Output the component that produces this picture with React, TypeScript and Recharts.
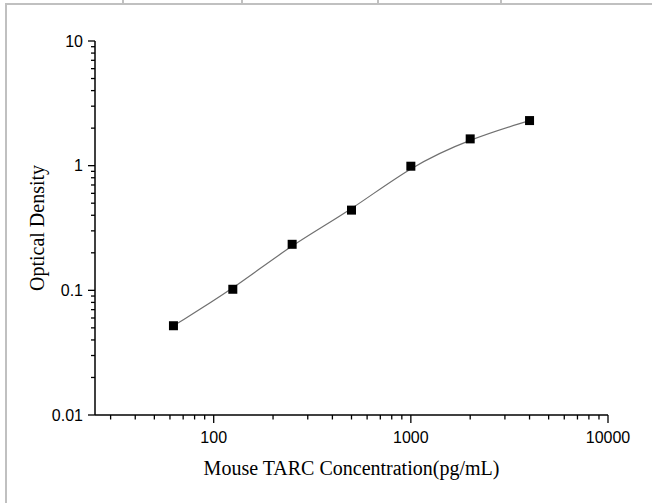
import { ComposedChart, Line, XAxis, YAxis } from 'recharts'

const concentrations = [62.5, 125, 250, 500, 1000, 2000, 4000]
const densities = [0.052, 0.102, 0.234, 0.44, 0.99, 1.64, 2.3]

const xTicks = [30, 40, 50, 60, 70, 80, 90, 100, 200, 300, 400, 500, 600, 700, 800, 900, 1000, 2000, 3000, 4000, 5000, 6000, 7000, 8000, 9000, 10000]
const xLabels = [100, 1000, 10000]
const yTicks = [0.01, 0.02, 0.03, 0.04, 0.05, 0.06, 0.07, 0.08, 0.09, 0.1, 0.2, 0.3, 0.4, 0.5, 0.6, 0.7, 0.8, 0.9, 1, 2, 3, 4, 5, 6, 7, 8, 9, 10]
const yLabels = [0.01, 0.1, 1, 10]

const data = concentrations.map((c, i) => ({ conc: c, od: densities[i] }))

const sans = '"Liberation Sans", Arial, sans-serif'
const serif = '"Liberation Serif", "Times New Roman", serif'

function XTick(props: any) {
  const { x, y, payload } = props
  const major = xLabels.includes(payload.value)
  return (
    <g>
      <line x1={x} x2={x} y1={y} y2={y + (major ? 8 : 4.5)} stroke="#000" strokeWidth={1.3} />
      {major && (
        <text x={x} y={y + 22} textAnchor="middle" dominantBaseline="central" fontFamily={sans} fontSize={16} fill="#000">
          {payload.value}
        </text>
      )}
    </g>
  )
}

function YTick(props: any) {
  const { x, y, payload } = props
  const major = yLabels.includes(payload.value)
  return (
    <g>
      <line x1={x} x2={x - (major ? 7 : 4)} y1={y} y2={y} stroke="#000" strokeWidth={1.3} />
      {major && (
        <text x={x - 12} y={y} textAnchor="end" dominantBaseline="central" fontFamily={sans} fontSize={16} fill="#000">
          {payload.value}
        </text>
      )}
    </g>
  )
}

function Square(props: any) {
  const { cx, cy, index } = props
  return <rect key={index} x={cx - 4.5} y={cy - 4.5} width={9} height={9} fill="#000" />
}

const frameColor = '#c0c0c0'

export default function App() {
  return (
    <div style={{ position: 'absolute', left: 0, top: 0, width: 652, height: 503, background: '#fff', overflow: 'hidden' }}>
      <div style={{ position: 'absolute', left: 5, top: 3, width: 647, height: 2, background: frameColor }} />
      <div style={{ position: 'absolute', left: 5, top: 3, width: 2, height: 500, background: frameColor }} />
      {[122, 241, 377, 500].map(l => (
        <div key={l} style={{ position: 'absolute', left: l, top: 0, width: 2, height: 4, background: frameColor }} />
      ))}
      <ComposedChart width={652} height={503} data={data} margin={{ top: 41, right: 44, bottom: 0, left: 0 }}>
        <XAxis
          dataKey="conc"
          type="number"
          scale="log"
          domain={[25, 10000]}
          allowDataOverflow
          ticks={xTicks}
          interval={0}
          tick={<XTick />}
          tickSize={0}
          tickMargin={0}
          tickLine={false}
          axisLine={{ stroke: '#000', strokeWidth: 1.5 }}
          height={88}
          label={{
            content: (p: any) => {
              const vb = p.viewBox
              return (
                <text x={vb.x + vb.width / 2} y={vb.y + 60} textAnchor="middle" fontFamily={serif} fontSize={20} fill="#000">
                  Mouse TARC Concentration(pg/mL)
                </text>
              )
            },
          }}
        />
        <YAxis
          type="number"
          scale="log"
          domain={[0.01, 10]}
          allowDataOverflow
          ticks={yTicks}
          interval={0}
          tick={<YTick />}
          tickSize={0}
          tickMargin={0}
          tickLine={false}
          axisLine={{ stroke: '#000', strokeWidth: 1.5 }}
          width={95}
          label={{
            content: (p: any) => {
              const vb = p.viewBox
              const cx = vb.x + 37
              const cy = vb.y + vb.height / 2
              return (
                <text x={cx} y={cy} transform={`rotate(-90, ${cx}, ${cy})`} textAnchor="middle" dominantBaseline="central" fontFamily={serif} fontSize={20} fill="#000">
                  Optical Density
                </text>
              )
            },
          }}
        />
        <Line
          dataKey="od"
          type="basis"
          stroke="#707070"
          strokeWidth={1.2}
          dot={<Square />}
          activeDot={false}
          isAnimationActive={false}
        />
      </ComposedChart>
    </div>
  )
}
